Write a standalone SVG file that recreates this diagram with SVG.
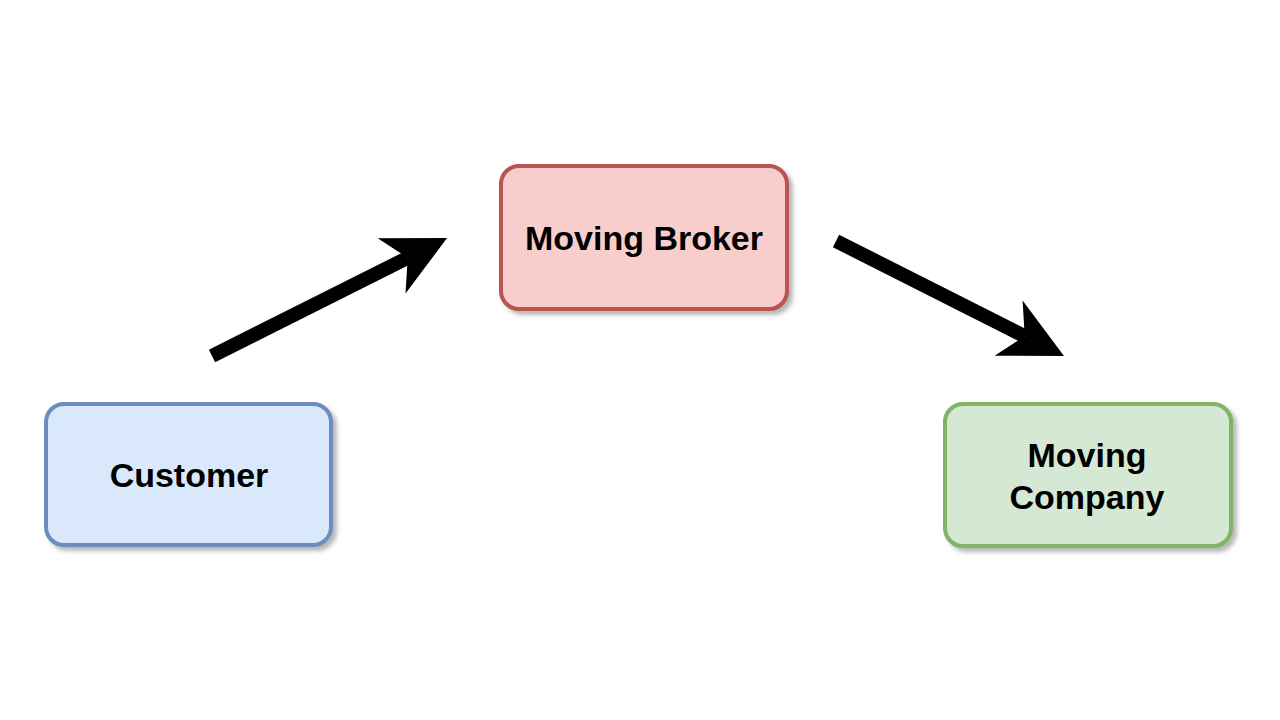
<svg xmlns="http://www.w3.org/2000/svg" width="1280" height="720" viewBox="0 0 1280 720">
<style>
.box{stroke-width:4;filter:url(#sh)}
.lbl{font-family:"Liberation Sans",Arial,sans-serif;font-weight:bold;font-size:34px;fill:#000;text-anchor:middle}
.edge{stroke:#000;stroke-width:14;fill:none;marker-end:url(#head)}
</style>
<defs>
<filter id="sh" x="-10%" y="-10%" width="130%" height="130%">
<feDropShadow dx="4" dy="4" stdDeviation="2" flood-color="#888" flood-opacity="0.6"/>
</filter>
<marker id="head" viewBox="-64 -33 66 66" refX="-44" refY="0" markerWidth="66" markerHeight="66" markerUnits="userSpaceOnUse" orient="auto">
<path d="M0,0 L-62,-31 L-44,0 L-62,31 Z" fill="#000"/>
</marker>
</defs>
<rect width="1280" height="720" fill="#fff"/>
<g id="connectors">
<line class="edge" x1="212" y1="356" x2="407.7" y2="257.8"/>
<line class="edge" x1="836" y1="241" x2="1024.7" y2="336.2"/>
</g>
<g id="customer">
<rect class="box" x="46" y="404" width="285" height="141" rx="18" fill="#dae8fc" stroke="#6c8ebf"/>
<text class="lbl" x="189" y="487">Customer</text>
</g>
<g id="broker">
<rect class="box" x="501" y="166" width="286" height="143" rx="18" fill="#f8cecc" stroke="#b85450"/>
<text class="lbl" x="644" y="250">Moving Broker</text>
</g>
<g id="company">
<rect class="box" x="945" y="404" width="286" height="142" rx="18" fill="#d5e8d4" stroke="#82b366"/>
<text class="lbl" x="1087" y="467">Moving</text>
<text class="lbl" x="1087" y="509">Company</text>
</g>
</svg>
